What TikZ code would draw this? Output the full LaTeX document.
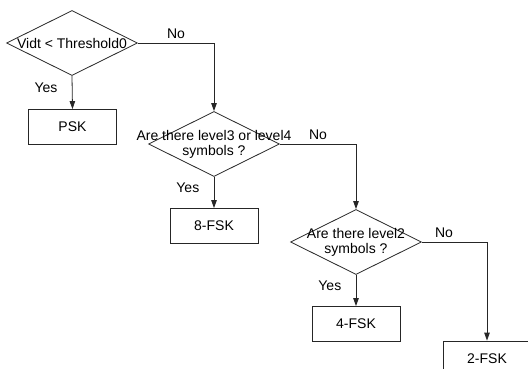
\documentclass[tikz,border=0pt]{standalone}
\usepackage{fontspec}
\setmainfont{Liberation Sans}
\usetikzlibrary{shapes.geometric,arrows.meta}

\begin{document}
\begin{tikzpicture}[x=1pt,y=1pt,
        every node/.style={font=\fontsize{14}{15}\selectfont},
        decision/.style={diamond,draw=black!85,line width=0.8pt,inner sep=0pt,
                minimum width=131pt,minimum height=65pt,aspect=2},
        result/.style={rectangle,draw=black!85,line width=0.8pt,
                minimum width=88pt,minimum height=35pt},
        flow/.style={draw=black!85,line width=0.8pt,-{Triangle[length=8pt,width=5.5pt]}}]
        \clip (0,0) rectangle (528,-368);

        \node [decision,label={[align=center]center:Vidt < Threshold0}] (thr) at (72,-43) {};
        \node [result] (psk) at (72.5,-127) {PSK};
        \node [decision,label={[align=center]center:Are there level3 or level4\\symbols ?}] (lvfour) at (214,-144) {};
        \node [result] (fskeight) at (214,-226) {8-FSK};
        \node [decision,label={[align=center]center:Are there level2\\symbols ?}] (lvtwo) at (356,-242) {};
        \node [result] (fskfour) at (356,-324) {4-FSK};
        \node [result] (fsktwo) at (487,-358.5) {2-FSK};

        \draw [flow] (thr.south) -- node [left=11pt,pos=0.36] {Yes} (psk.north);
        \draw [flow] (thr.east) -| node [above=1pt,pos=0.25] {No} (lvfour.north);

        \draw [flow] (lvfour.south) -- node [left=11pt,pos=0.36] {Yes} (fskeight.north);
        \draw [flow] (lvfour.east) -| node [above=1pt,pos=0.25] {No} (lvtwo.north);

        \draw [flow] (lvtwo.south) -- node [left=11pt,pos=0.36] {Yes} (fskfour.north);
        \draw [flow] (lvtwo.east) -| node [above=1pt,pos=0.17] {No} (fsktwo.north);
\end{tikzpicture}
\end{document}
